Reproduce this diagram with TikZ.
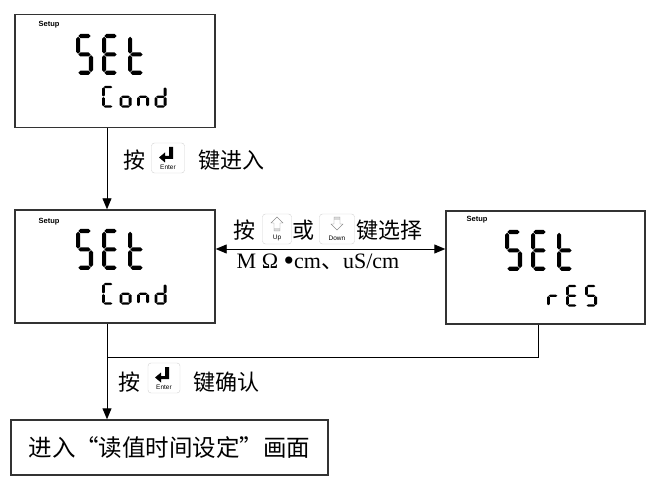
\documentclass[tikz,border=0pt]{standalone}
\usepackage{fontspec}
\setmainfont{Liberation Serif}
\setsansfont{Liberation Sans}
\newfontfamily\cjk{Noto Sans CJK SC}
\usetikzlibrary{arrows.meta}

% seven segment cell: 1 wide, 2.4 high, y down
\newcommand{\lcdh}[1]{\fill (0.14,#1) -- (0.26,#1-0.12) -- (0.74,#1-0.12) -- (0.86,#1) -- (0.74,#1+0.12) -- (0.26,#1+0.12) -- cycle;}
\newcommand{\lcdv}[3]{\fill (#1,#2) -- (#1+0.12,#2+0.12) -- (#1+0.12,#3-0.12) -- (#1,#3) -- (#1-0.12,#3-0.12) -- (#1-0.12,#2+0.12) -- cycle;}
\def\lcdsega{\lcdh{0.12}}
\def\lcdsegg{\lcdh{1.2}}
\def\lcdsegd{\lcdh{2.28}}
\def\lcdsegf{\lcdv{0.12}{0.16}{1.16}}
\def\lcdsegb{\lcdv{0.88}{0.16}{1.16}}
\def\lcdsege{\lcdv{0.12}{1.24}{2.24}}
\def\lcdsegc{\lcdv{0.88}{1.24}{2.24}}
\def\lcdmapS{a,f,g,c,d}
\def\lcdmapE{a,f,g,e,d}
\def\lcdmapt{f,e,g,d}
\def\lcdmapC{a,f,e,d}
\def\lcdmapo{g,c,d,e}
\def\lcdmapn{g,e,c}
\def\lcdmapd{b,c,d,e,g}
\def\lcdmapr{e,g}
% position, xscale, yscale, pitch, letters
\newcommand{\lcdword}[5]{%
  \foreach \ltr [count=\i from 0] in {#5}{
    \begin{scope}[shift={#1},xshift={\i*#4},xscale=#2,yscale=#3]
      \expandafter\let\expandafter\seglist\csname lcdmap\ltr\endcsname
      \foreach \s in \seglist {\csname lcdseg\s\endcsname}
    \end{scope}
  }}
% key glyphs
\newcommand{\keyenter}[1]{%
  \fill ([shift={(1,-11)}]#1.center) -- ++(4,0) -- ++(0,12) -- ++(-8,0) -- ++(0,3.5)
    -- ++(-6,-5) -- ++(6,-5) -- ++(0,3.5) -- ++(4,0) -- cycle;
  \node[keytext] (#1-t) at ([yshift=-9pt]#1.center) {Enter};}
\newcommand{\keyup}[1]{%
  \fill[black!15] ([shift={(-3,-1)}]#1.center) rectangle ++(6,3);
  \draw[black!45] ([shift={(0,-12)}]#1.center) -- ++(6,6) -- ++(-3,0) -- ++(0,8)
    -- ++(-6,0) -- ++(0,-8) -- ++(-3,0) -- cycle;
  \node[keytext] (#1-t) at ([yshift=-9pt]#1.center) {Up};}
\newcommand{\keydown}[1]{%
  \fill[black!15] ([shift={(-3,-12)}]#1.center) rectangle ++(6,3);
  \draw[black!45] ([shift={(-3,-12)}]#1.center) -- ++(6,0) -- ++(0,7) -- ++(3,0)
    -- ++(-6,6) -- ++(-6,-6) -- ++(3,0) -- cycle;
  \node[keytext] (#1-t) at ([yshift=-9pt]#1.center) {Down};}

\tikzset{
  lcdbox/.style={draw=black!80, line width=1.4pt, minimum width=200pt, minimum height=113pt, inner sep=0pt},
  setup/.style={font=\sffamily\bfseries\fontsize{7.5}{8}\selectfont, inner sep=0pt},
  keybox/.style={draw=black!18, rounded corners=3pt, minimum width=31pt, minimum height=30pt, inner sep=0pt},
  keytext/.style={font=\sffamily\fontsize{6.5}{7}\selectfont, inner sep=0pt},
  cn/.style={font=\cjk\fontsize{22}{26}\selectfont, inner sep=0pt},
  flow/.style={line width=0.9pt},
  tip/.tip={Triangle[length=11pt,width=9pt]}
}

\begin{document}
\begin{tikzpicture}[x=1pt,y=-1pt]
  \useasboundingbox (0,0) rectangle (657,500);
  % displays
  \node[lcdbox] (set1) at (115,71) {};
  \node[setup] (su1) at (49,25) {Setup};
  \lcdword{(76,34)}{17}{17}{26}{S,E,t}
  \lcdword{(102,86)}{12}{9}{17.5}{C,o,n,d}

  \node[lcdbox] (set2) at (115,266.5) {};
  \node[setup] (su2) at (49,222) {Setup};
  \lcdword{(76,229)}{17}{17}{26}{S,E,t}
  \lcdword{(102,283)}{12}{9}{17.5}{C,o,n,d}

  \node[lcdbox, minimum width=199pt] (res) at (545.5,267.5) {};
  \node[setup] (su3) at (477,220) {Setup};
  \lcdword{(505,230)}{17}{17}{26}{S,E,t}
  \lcdword{(547,285)}{12}{9}{19}{r,E,S}

  \node[lcdbox, minimum width=317pt, minimum height=55pt, cn, font=\cjk\fontsize{23.5}{26}\selectfont] (read) at (169.5,447.5) {进入“读值时间设定”画面};

  % connectors
  \coordinate (join) at (107,357);
  \draw[flow, -tip] ([xshift=-8pt]set1.south) -- ([xshift=-8pt]set2.north);
  \draw[flow, tip-tip] ([yshift=17.5pt]set2.east) -- ([yshift=17.5pt]set2.east -| res.west);
  \draw[flow] ([xshift=-7.5pt]res.south) |- (join);
  \draw[flow, -tip] ([xshift=-8pt]set2.south) -- ([xshift=-8pt]set2.south |- read.north);

  % key hints
  \node[cn] (p1) at (134,160) {按};
  \node[keybox, minimum width=33pt] (ent1) at (168,158) {};
  \keyenter{ent1}
  \node[cn] (p1b) at (231,160) {键进入};

  \node[cn] (p2) at (244,230) {按};
  \node[keybox, minimum width=29pt] (up) at (277,229) {};
  \keyup{up}
  \node[cn] (p2b) at (303,230) {或};
  \node[keybox, minimum width=35pt] (down) at (337,229) {};
  \keydown{down}
  \node[cn] (p2c) at (389,230) {键选择};
  \node[inner sep=0pt, font=\fontsize{22}{26}\selectfont] (unit) at (318,262) {M Ω \raisebox{-2.5pt}{\fontsize{30}{30}\selectfont•}cm{\cjk 、}uS/cm};

  \node[cn] (p3) at (129,382) {按};
  \node[keybox, minimum width=32pt] (ent2) at (164,378) {};
  \keyenter{ent2}
  \node[cn] (p3b) at (226,382) {键确认};
\end{tikzpicture}
\end{document}
